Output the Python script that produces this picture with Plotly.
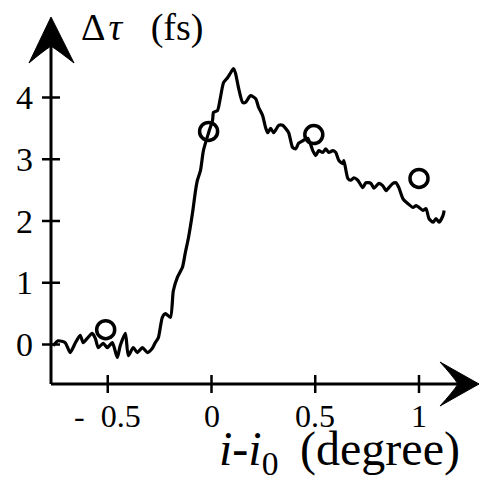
import plotly.graph_objects as go

# ---- data ----
curve_x = [-0.763, -0.739, -0.705, -0.681, -0.657, -0.633, -0.618, -0.599, -0.575, -0.560,
           -0.546, -0.522, -0.502, -0.478, -0.454, -0.440, -0.415, -0.401, -0.377, -0.357,
           -0.333, -0.309, -0.285, -0.271, -0.256, -0.237, -0.222, -0.198, -0.184, -0.164,
           -0.140, -0.126, -0.111, -0.092, -0.077, -0.068, -0.053, -0.039, -0.014, 0.005,
           0.010, 0.029, 0.043, 0.058, 0.077, 0.092, 0.106, 0.116, 0.130, 0.150,
           0.164, 0.188, 0.213, 0.227, 0.246, 0.261, 0.271, 0.285, 0.300, 0.324,
           0.343, 0.357, 0.372, 0.391, 0.406, 0.420, 0.440, 0.464, 0.488, 0.502,
           0.517, 0.536, 0.551, 0.565, 0.585, 0.599, 0.614, 0.633, 0.638, 0.657,
           0.671, 0.686, 0.705, 0.729, 0.744, 0.768, 0.783, 0.807, 0.826, 0.841,
           0.855, 0.874, 0.889, 0.903, 0.923, 0.947, 0.971, 0.986, 1.000, 1.019,
           1.034, 1.048, 1.068, 1.082, 1.097, 1.116, 1.121]
curve_y = [-0.02, 0.06, 0.03, -0.13, 0.02, 0.15, 0.03, 0.10, 0.18, 0.10,
           -0.05, 0.02, -0.05, 0.03, -0.21, -0.02, 0.18, -0.18, -0.05, -0.13,
           -0.05, -0.13, -0.06, 0.03, 0.11, 0.44, 0.50, 0.44, 0.87, 1.09,
           1.25, 1.49, 1.73, 2.12, 2.49, 2.66, 2.82, 3.14, 3.43, 3.63,
           3.76, 3.79, 4.00, 4.24, 4.32, 4.40, 4.47, 4.39, 4.16, 3.92,
           3.92, 4.03, 3.98, 3.84, 3.71, 3.51, 3.43, 3.50, 3.43, 3.55,
           3.55, 3.50, 3.43, 3.19, 3.17, 3.26, 3.30, 3.34, 3.14, 3.06,
           3.14, 3.11, 3.17, 3.11, 3.14, 3.11, 2.98, 2.93, 2.98, 2.69,
           2.66, 2.70, 2.66, 2.54, 2.62, 2.61, 2.53, 2.61, 2.57, 2.49,
           2.54, 2.61, 2.62, 2.54, 2.36, 2.28, 2.22, 2.25, 2.22, 2.17,
           2.20, 2.04, 1.98, 2.04, 1.98, 2.09, 2.17]

points_x = [-0.51, -0.014, 0.493, 1.0]
points_y = [0.24, 3.45, 3.40, 2.69]

x_tick_vals = [-0.5, 0, 0.5, 1]
x_tick_text = ["-&nbsp;&nbsp;0.5", "0", "0.5", "1"]
y_tick_vals = [0, 1, 2, 3, 4]
y_tick_text = ["0", "1", "2", "3", "4"]

# ---- geometry (pixels) ----
W, H = 481, 480
L, R, T, B = 51, 477, 18, 384
X0PX, XSCALE = 211.5, 207.5   # pixel of x=0, px per unit
Y0PX, YSCALE = 344.5, 61.75   # pixel of y=0, px per unit

x_range = [(L - X0PX) / XSCALE, (R - X0PX) / XSCALE]
y_range = [(Y0PX - B) / YSCALE, (Y0PX - T) / YSCALE]


def px(p):
    return (p - L) / (R - L)


def py(p):
    return (B - p) / (B - T)


FONT = "Liberation Serif"
BLACK = "#000000"

fig = go.Figure()
fig.add_trace(go.Scatter(x=curve_x, y=curve_y, mode="lines",
                         line=dict(color=BLACK, width=3.2, shape="spline", smoothing=0.6),
                         hoverinfo="skip", showlegend=False))
fig.add_trace(go.Scatter(x=points_x, y=points_y, mode="markers",
                         marker=dict(symbol="circle-open", size=18, color=BLACK,
                                     line=dict(width=3.5, color=BLACK)),
                         showlegend=False, cliponaxis=False))

shapes = []
# axis lines
shapes.append(dict(type="line", xref="paper", yref="paper", x0=0, x1=0, y0=0, y1=py(46),
                   line=dict(color=BLACK, width=3)))
shapes.append(dict(type="line", xref="paper", yref="paper", x0=0, x1=px(458), y0=0, y1=0,
                   line=dict(color=BLACK, width=3)))
# arrow heads
ya = "M {a},{b} L {c},{d} Q {e},{f} {g},{h} Q {i},{j} {k},{l} Z".format(
    a=px(51), b=py(17), c=px(29), d=py(63), e=px(42), f=py(52), g=px(51), h=py(46),
    i=px(60), j=py(52), k=px(74), l=py(63))
shapes.append(dict(type="path", xref="paper", yref="paper", path=ya,
                   fillcolor=BLACK, line=dict(color=BLACK, width=1)))
xa = "M {a},{b} L {c},{d} Q {e},{f} {g},{h} Q {i},{j} {k},{l} Z".format(
    a=px(479), b=py(384), c=px(440), d=py(362), e=px(452), f=py(375), g=px(458), h=py(384),
    i=px(452), j=py(393), k=px(440), l=py(406))
shapes.append(dict(type="path", xref="paper", yref="paper", path=xa,
                   fillcolor=BLACK, line=dict(color=BLACK, width=1)))
# ticks
for v in x_tick_vals:
    shapes.append(dict(type="line", xref="x", yref="paper", x0=v, x1=v,
                       y0=py(375), y1=py(393), line=dict(color=BLACK, width=2.5)))
for v in y_tick_vals:
    shapes.append(dict(type="line", xref="paper", yref="y", x0=px(42), x1=px(60),
                       y0=v, y1=v, line=dict(color=BLACK, width=2.5)))

annotations = []
for v, t in zip(x_tick_vals, x_tick_text):
    annotations.append(dict(x=v, xref="x", y=py(396), yref="paper", text=t, showarrow=False,
                            xanchor="center", yanchor="top",
                            font=dict(family=FONT, size=32, color=BLACK)))
for v, t in zip(y_tick_vals, y_tick_text):
    annotations.append(dict(x=px(35), xref="paper", y=v, yref="y", text=t, showarrow=False,
                            xanchor="right", yanchor="middle",
                            font=dict(family=FONT, size=34, color=BLACK)))
annotations.append(dict(x=px(79), xref="paper", y=py(4), yref="paper",
                        text="Δ\u200a<i>τ</i>&nbsp;&nbsp;&nbsp;(fs)", showarrow=False,
                        xanchor="left", yanchor="top",
                        font=dict(family=FONT, size=38, color=BLACK)))
annotations.append(dict(x=px(217), xref="paper", y=py(420), yref="paper",
                        text="<i>i</i>-<i>i</i><sub>0</sub>\u2009 (degree)", showarrow=False,
                        xanchor="left", yanchor="top",
                        font=dict(family=FONT, size=48, color=BLACK)))

fig.update_layout(
    width=W, height=H,
    margin=dict(l=L, r=W - R, t=T, b=H - B),
    paper_bgcolor="white", plot_bgcolor="white",
    xaxis=dict(range=x_range, visible=False, fixedrange=True),
    yaxis=dict(range=y_range, visible=False, fixedrange=True),
    shapes=shapes, annotations=annotations,
    showlegend=False,
)

fig.write_html("out.html", config={"displayModeBar": False},
               post_script="document.body.style.margin='0';document.body.style.overflow='hidden';")
